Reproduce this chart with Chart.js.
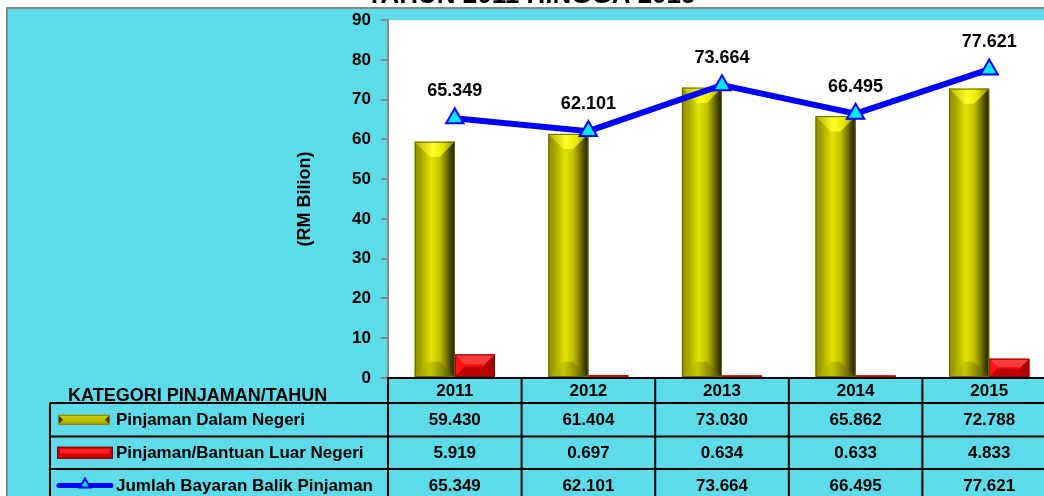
<!DOCTYPE html>
<html>
<head>
<meta charset="utf-8">
<script src="https://cdn.jsdelivr.net/npm/chart.js@4.4.1/dist/chart.umd.min.js"></script>
<style>
    html, body { margin: 0; padding: 0; background: #fff; overflow: hidden; }
    #wrap { width: 1060px; height: 496px; }
</style>
</head>
<body>
<div id="wrap"><canvas id="chart" width="1060" height="496"></canvas></div>
<script>
// Data
const years = ['2011', '2012', '2013', '2014', '2015'];
const dalamNegeri = [59.430, 61.404, 73.030, 65.862, 72.788];
const luarNegeri = [5.919, 0.697, 0.634, 0.633, 4.833];
const jumlahBayaran = [65.349, 62.101, 73.664, 66.495, 77.621];
const seriesNames = ['Pinjaman Dalam Negeri', 'Pinjaman/Bantuan Luar Negeri', 'Jumlah Bayaran Balik Pinjaman'];
const yMin = 0, yMax = 90, yStep = 10;
const titleText = 'TAHUN 2011 HINGGA 2015';
const tableHeader = 'KATEGORI PINJAMAN/TAHUN';
const yTitle = '(RM Bilion)';

const FONT = "'Liberation Sans', Arial, sans-serif";
const CYAN = '#5ddbe8';

Chart.defaults.font.family = FONT;
Chart.defaults.color = '#000';

// yellow 3D-ish bar
function drawYellowBar(ctx, el) {
    const l = el.x - el.width / 2, r = el.x + el.width / 2;
    const t = Math.min(el.y, el.base), b = Math.max(el.y, el.base);
    const w = r - l, h = b - t;
    if (h < 1) return;
    const bev = Math.min(w * 0.38, h / 2);

    let g = ctx.createLinearGradient(l, 0, r, 0);
    g.addColorStop(0, '#8c8c00');
    g.addColorStop(0.15, '#a4a400');
    g.addColorStop(0.32, '#cccc00');
    g.addColorStop(0.42, '#e4e400');
    g.addColorStop(0.5, '#d6d600');
    g.addColorStop(0.62, '#c2c200');
    g.addColorStop(0.78, '#7e7e00');
    g.addColorStop(0.9, '#444400');
    g.addColorStop(1, '#1e1e00');
    ctx.fillStyle = g;
    ctx.fillRect(l, t, w, h);

    // top bevel
    g = ctx.createLinearGradient(l, 0, r, 0);
    g.addColorStop(0, '#b4b400');
    g.addColorStop(0.45, '#ffff28');
    g.addColorStop(0.7, '#e8e800');
    g.addColorStop(1, '#8a8a00');
    ctx.fillStyle = g;
    ctx.beginPath();
    ctx.moveTo(l, t); ctx.lineTo(r, t);
    ctx.lineTo(r - bev, t + bev); ctx.lineTo(l + bev, t + bev);
    ctx.closePath(); ctx.fill();

    // bottom bevel
    g = ctx.createLinearGradient(l, 0, r, 0);
    g.addColorStop(0, '#9a9a00');
    g.addColorStop(0.4, '#c6c600');
    g.addColorStop(0.7, '#8a8a00');
    g.addColorStop(1, '#3a3a00');
    ctx.fillStyle = g;
    ctx.beginPath();
    ctx.moveTo(l, b); ctx.lineTo(r, b);
    ctx.lineTo(r - bev, b - bev); ctx.lineTo(l + bev, b - bev);
    ctx.closePath(); ctx.fill();

    ctx.strokeStyle = '#6a6a00';
    ctx.lineWidth = 1;
    ctx.strokeRect(l + 0.5, t + 0.5, w - 1, h - 1);
}

// red 3D-ish bar
function drawRedBar(ctx, el) {
    const l = el.x - el.width / 2, r = el.x + el.width / 2;
    const t = Math.min(el.y, el.base), b = Math.max(el.y, el.base);
    const w = r - l, h = b - t;
    if (h < 6) {
        ctx.fillStyle = '#ff2a00';
        ctx.fillRect(l, t, w, h);
        ctx.strokeStyle = '#d00000';
        ctx.lineWidth = 1;
        ctx.strokeRect(l + 0.5, t + 0.5, w - 1, Math.max(h - 1, 0.5));
        return;
    }
    const bev = Math.min(w * 0.3, h * 0.45);
    ctx.fillStyle = '#e80000';
    ctx.fillRect(l, t, w, h);
    const poly = (pts, col) => {
        ctx.fillStyle = col;
        ctx.beginPath();
        ctx.moveTo(pts[0][0], pts[0][1]);
        for (let i = 1; i < pts.length; i++) ctx.lineTo(pts[i][0], pts[i][1]);
        ctx.closePath(); ctx.fill();
    };
    poly([[l, t], [r, t], [r - bev, t + bev], [l + bev, t + bev]], '#ff3c3c');
    poly([[l, t], [l + bev, t + bev], [l + bev, b - bev], [l, b]], '#ff1414');
    poly([[r, t], [r - bev, t + bev], [r - bev, b - bev], [r, b]], '#a80000');
    poly([[l, b], [r, b], [r - bev, b - bev], [l + bev, b - bev]], '#c00000');
    const g = ctx.createLinearGradient(0, t + bev, 0, b - bev);
    g.addColorStop(0, '#ff2020');
    g.addColorStop(1, '#e00000');
    ctx.fillStyle = g;
    ctx.fillRect(l + bev, t + bev, w - 2 * bev, Math.max(h - 2 * bev, 0));
    ctx.strokeStyle = '#900000';
    ctx.lineWidth = 1;
    ctx.strokeRect(l + 0.5, t + 0.5, w - 1, h - 1);
}

function drawTriangle(ctx, x, y, rad) {
    const xOff = Math.cos(Math.PI / 6) * rad;
    const yOff = Math.sin(Math.PI / 6) * rad;
    ctx.beginPath();
    ctx.moveTo(x, y - rad);
    ctx.lineTo(x + xOff, y + yOff);
    ctx.lineTo(x - xOff, y + yOff);
    ctx.closePath();
    ctx.fillStyle = '#00e8ff';
    ctx.fill();
    ctx.strokeStyle = '#0000ff';
    ctx.lineWidth = 2;
    ctx.stroke();
}

const backgroundPlugin = {
    id: 'background',
    beforeDraw(chart) {
        const ctx = chart.ctx, area = chart.chartArea;
        const W = chart.width, H = chart.height;
        ctx.save();
        ctx.fillStyle = '#fff';
        ctx.fillRect(0, 0, W, H);
        ctx.fillStyle = '#888';
        ctx.fillRect(6, 7, W, H);
        ctx.fillStyle = CYAN;
        ctx.fillRect(8, 9, W, H);
        ctx.fillStyle = '#fff';
        ctx.fillRect(area.left, area.top, area.right - area.left, area.bottom - area.top);
        // cut-off chart title
        ctx.fillStyle = '#000';
        ctx.font = 'bold 26px ' + FONT;
        ctx.textAlign = 'center';
        ctx.textBaseline = 'alphabetic';
        ctx.fillText(titleText, 531, 3);
        ctx.restore();
    }
};

const barStylePlugin = {
    id: 'barStyle',
    afterDatasetDraw(chart, args) {
        const meta = args.meta;
        if (meta.type !== 'bar') return;
        const ctx = chart.ctx;
        ctx.save();
        meta.data.forEach(el => {
            if (args.index === 0) drawYellowBar(ctx, el);
            else drawRedBar(ctx, el);
        });
        ctx.restore();
    }
};

const labelPlugin = {
    id: 'pointLabels',
    afterDatasetsDraw(chart) {
        const ctx = chart.ctx;
        const meta = chart.getDatasetMeta(2);
        ctx.save();
        ctx.fillStyle = '#000';
        ctx.font = 'bold 18px ' + FONT;
        ctx.textAlign = 'center';
        ctx.textBaseline = 'middle';
        meta.data.forEach((pt, i) => {
            ctx.fillText(jumlahBayaran[i].toFixed(3), pt.x, pt.y - 27);
        });
        ctx.restore();
    }
};

const tablePlugin = {
    id: 'dataTable',
    afterDraw(chart) {
        const ctx = chart.ctx, area = chart.chartArea;
        const xs = chart.scales.x;
        const W = chart.width;
        const catW = (area.right - area.left) / years.length;
        const top = area.bottom;
        const rows = [top, top + 25, top + 58.5, top + 91, top + 124];
        const legLeft = 50;

        ctx.save();
        ctx.strokeStyle = '#000';
        ctx.lineWidth = 2;
        ctx.beginPath();
        ctx.moveTo(area.left - 1, rows[0]); ctx.lineTo(W, rows[0]);
        for (let r = 1; r <= 3; r++) {
            ctx.moveTo(legLeft, rows[r]); ctx.lineTo(W, rows[r]);
        }
        ctx.moveTo(legLeft, rows[1]); ctx.lineTo(legLeft, rows[4]);
        for (let i = 0; i <= years.length; i++) {
            const x = area.left + i * catW;
            ctx.moveTo(x, rows[0]); ctx.lineTo(x, rows[4]);
        }
        ctx.stroke();

        // header
        ctx.fillStyle = '#000';
        ctx.font = 'bold 18px ' + FONT;
        ctx.textAlign = 'left';
        ctx.textBaseline = 'alphabetic';
        ctx.fillText(tableHeader, 68, 401);

        // cells
        ctx.font = 'bold 17px ' + FONT;
        ctx.textAlign = 'center';
        ctx.textBaseline = 'middle';
        const tableRows = [years, dalamNegeri, luarNegeri, jumlahBayaran];
        tableRows.forEach((vals, r) => {
            const cy = (rows[r] + rows[r + 1]) / 2 + 1;
            vals.forEach((v, i) => {
                const txt = r === 0 ? v : v.toFixed(3);
                ctx.fillText(txt, xs.getPixelForValue(i), cy);
            });
        });

        // legend keys + names
        ctx.textAlign = 'left';
        seriesNames.forEach((name, s) => {
            const cy = (rows[s + 1] + rows[s + 2]) / 2;
            if (s === 0) {
                const g = ctx.createLinearGradient(0, cy - 5, 0, cy + 5);
                g.addColorStop(0, '#d4d400');
                g.addColorStop(1, '#a6a600');
                ctx.fillStyle = g;
                ctx.fillRect(58, cy - 5, 52, 10);
                ctx.strokeStyle = '#808000';
                ctx.lineWidth = 1;
                ctx.strokeRect(58.5, cy - 4.5, 51, 9);
                ctx.fillStyle = '#3a3a00';
                ctx.beginPath();
                ctx.moveTo(59, cy - 4); ctx.lineTo(63, cy); ctx.lineTo(59, cy + 4); ctx.closePath(); ctx.fill();
                ctx.beginPath();
                ctx.moveTo(109, cy - 4); ctx.lineTo(105, cy); ctx.lineTo(109, cy + 4); ctx.closePath(); ctx.fill();
            } else if (s === 1) {
                ctx.fillStyle = '#c00000';
                ctx.fillRect(57, cy - 6, 56, 12);
                ctx.fillStyle = '#ff2020';
                ctx.fillRect(60, cy - 4, 50, 5);
                ctx.fillStyle = '#d80000';
                ctx.fillRect(60, cy + 1, 50, 3);
                ctx.strokeStyle = '#800000';
                ctx.lineWidth = 1;
                ctx.strokeRect(57.5, cy - 5.5, 55, 11);
            } else {
                ctx.strokeStyle = '#0000ff';
                ctx.lineWidth = 5;
                ctx.lineCap = 'round';
                ctx.beginPath();
                ctx.moveTo(59, cy); ctx.lineTo(111, cy);
                ctx.stroke();
                drawTriangle(ctx, 85, cy - 1, 6);
            }
            ctx.fillStyle = '#000';
            ctx.font = 'bold 17px ' + FONT;
            ctx.textBaseline = 'middle';
            ctx.fillText(name, 116, cy + 1);
        });
        ctx.restore();
    }
};

const ctx = document.getElementById('chart').getContext('2d');
new Chart(ctx, {
    type: 'bar',
    data: {
        labels: years,
        datasets: [
            {
                label: seriesNames[0],
                data: dalamNegeri,
                backgroundColor: '#d0d000',
                categoryPercentage: 0.6,
                barPercentage: 1.0,
                order: 1
            },
            {
                label: seriesNames[1],
                data: luarNegeri,
                backgroundColor: '#ff0000',
                categoryPercentage: 0.6,
                barPercentage: 1.0,
                order: 2
            },
            {
                type: 'line',
                label: seriesNames[2],
                data: jumlahBayaran,
                borderColor: '#0000ff',
                borderWidth: 6,
                fill: false,
                tension: 0,
                pointStyle: 'triangle',
                pointRadius: 10,
                pointBackgroundColor: '#00e8ff',
                pointBorderColor: '#0000ff',
                pointBorderWidth: 2,
                clip: false,
                order: 0
            }
        ]
    },
    options: {
        responsive: false,
        animation: false,
        layout: {
            autoPadding: false,
            padding: { left: 290, right: 4, top: 18, bottom: 118 }
        },
        scales: {
            x: {
                display: false
            },
            y: {
                min: yMin,
                max: yMax,
                afterFit(scale) { scale.width = 98; },
                ticks: {
                    stepSize: yStep,
                    padding: 10,
                    color: '#000',
                    font: { size: 17, weight: 'bold' }
                },
                grid: {
                    drawOnChartArea: false,
                    drawTicks: true,
                    tickLength: 7,
                    color: '#888',
                    lineWidth: 2
                },
                border: { display: true, color: '#888', width: 2 },
                title: {
                    display: true,
                    text: yTitle,
                    color: '#000',
                    font: { size: 18, weight: 'bold' },
                    padding: { top: 4, bottom: 4 }
                }
            }
        },
        plugins: {
            legend: { display: false },
            tooltip: { enabled: false }
        }
    },
    plugins: [backgroundPlugin, barStylePlugin, labelPlugin, tablePlugin]
});
</script>
</body>
</html>
